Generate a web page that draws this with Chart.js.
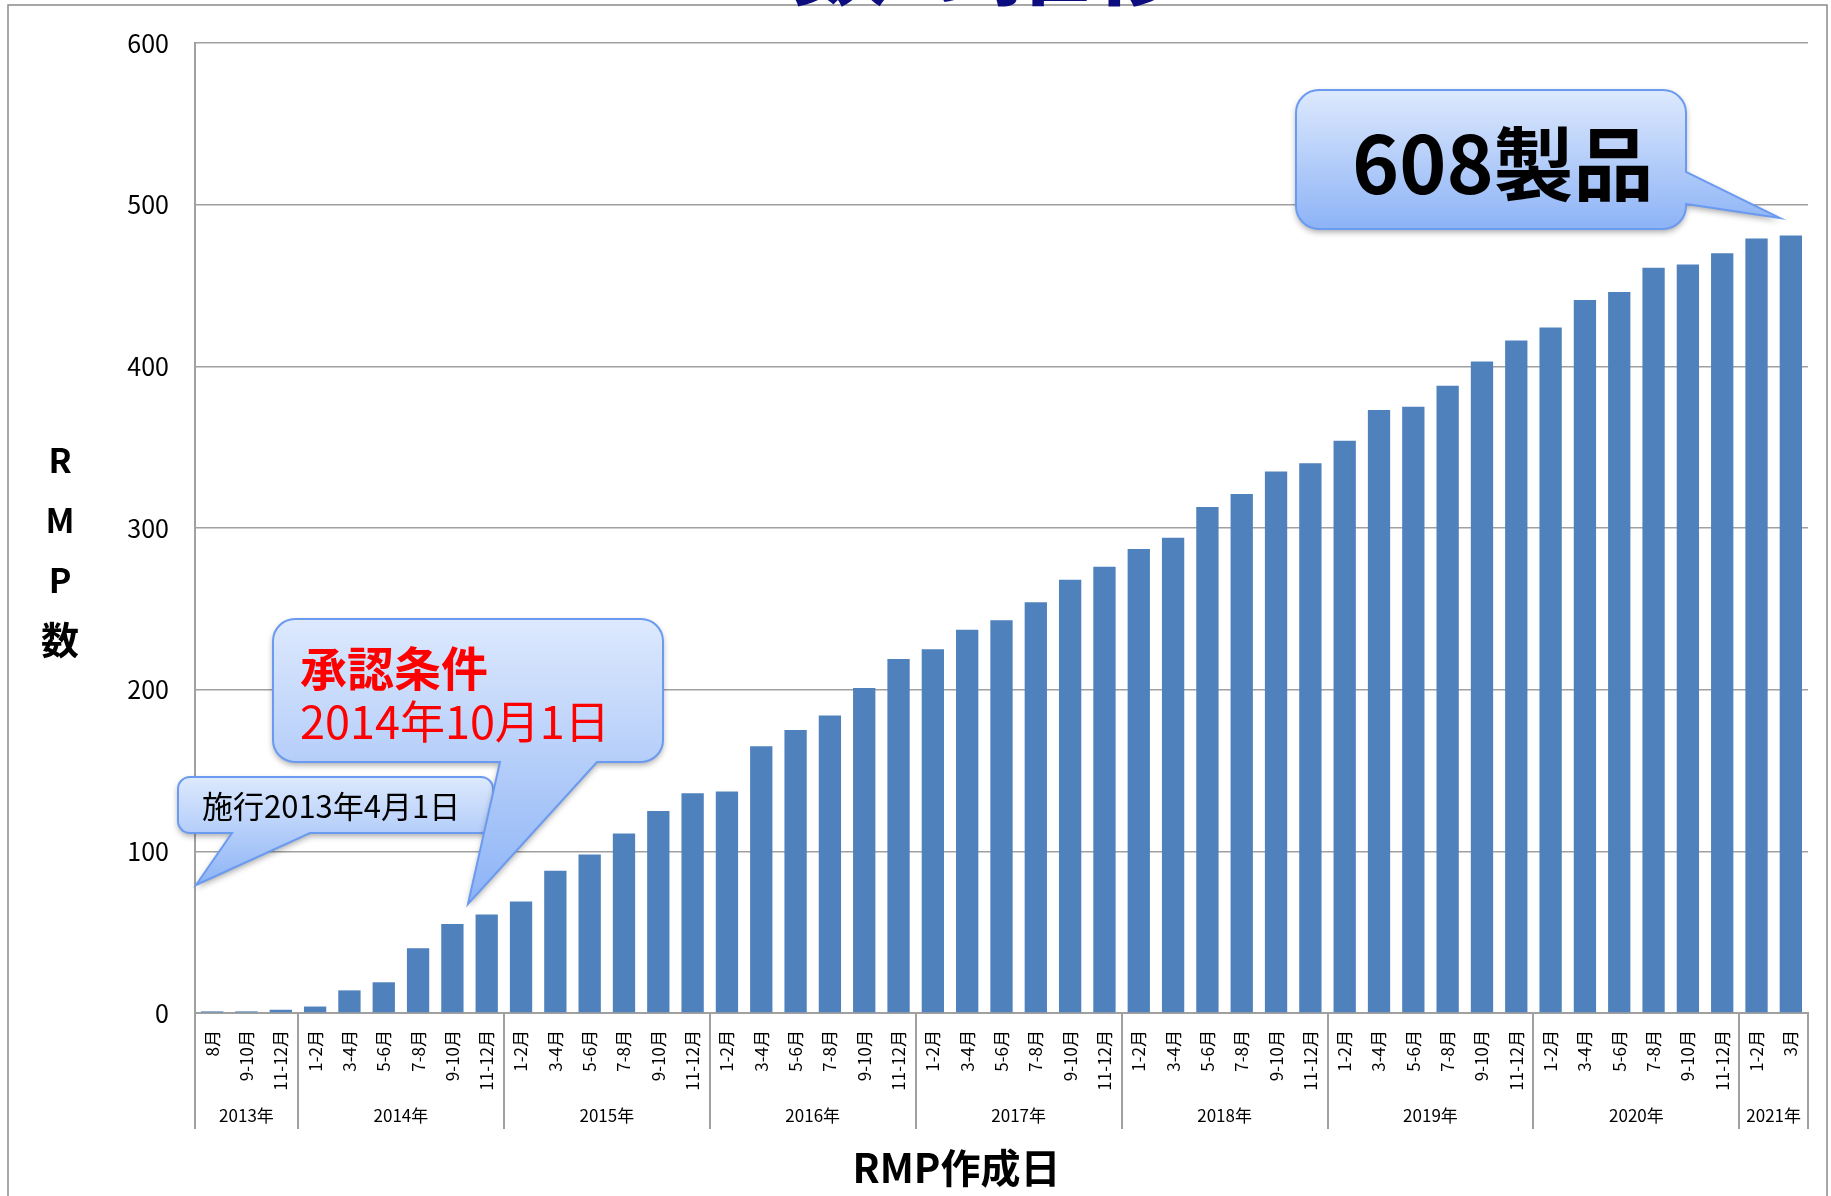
<!DOCTYPE html>
<html lang="ja">
<head>
<meta charset="utf-8">
<title>RMP数の推移</title>
<script src="https://cdn.jsdelivr.net/npm/chart.js@4.4.1/dist/chart.umd.min.js"></script>
<style>
  html, body { margin: 0; padding: 0; background: #fff; }
  #wrap { position: relative; width: 1831px; height: 1196px; }
</style>
</head>
<body>
<div id="wrap"><canvas id="id_canv"></canvas></div>
<script>
// month labels, one per bar
const months = [
  '8月', '9-10月', '11-12月',
  '1-2月', '3-4月', '5-6月', '7-8月', '9-10月', '11-12月',
  '1-2月', '3-4月', '5-6月', '7-8月', '9-10月', '11-12月',
  '1-2月', '3-4月', '5-6月', '7-8月', '9-10月', '11-12月',
  '1-2月', '3-4月', '5-6月', '7-8月', '9-10月', '11-12月',
  '1-2月', '3-4月', '5-6月', '7-8月', '9-10月', '11-12月',
  '1-2月', '3-4月', '5-6月', '7-8月', '9-10月', '11-12月',
  '1-2月', '3-4月', '5-6月', '7-8月', '9-10月', '11-12月',
  '1-2月', '3月'
]
// year groups under the month labels
const years = ['2013年', '2014年', '2015年', '2016年', '2017年', '2018年', '2019年', '2020年', '2021年']
const yearSpan = [3, 6, 6, 6, 6, 6, 6, 6, 2]

// cumulative RMP count
const rmpCounts = [
  1, 1, 2,
  4, 14, 19, 40, 55, 61,
  69, 88, 98, 111, 125, 136,
  137, 165, 175, 184, 201, 219,
  225, 237, 243, 254, 268, 276,
  287, 294, 313, 321, 335, 340,
  354, 373, 375, 388, 403, 416,
  424, 441, 446, 461, 463, 470,
  479, 481
]
const yTicks = [0, 100, 200, 300, 400, 500, 600]

const titleText = 'RMP数の推移'
const xTitle = 'RMP作成日'
const yTitleChars = ['R', 'M', 'P', '数']

const FONT = '"Noto Sans CJK JP", "Noto Sans", sans-serif'
const GRID = '#a0a0a0'

/* speech bubbles: box, tail and text lines */
const callouts = [
  {
    x: 178, y: 777, w: 315, h: 56, r: 12,
    tail: { side: 'bottom', a: 232, b: 310, tx: 196, ty: 885 },
    lines: [{ text: '施行2013年4月1日', x: 202, y: 806, font: '31px ' + FONT, color: '#000' }]
  },
  {
    x: 273, y: 619, w: 390, h: 143, r: 22,
    tail: { side: 'bottom', a: 500, b: 597, tx: 468, ty: 904 },
    lines: [
      { text: '承認条件', x: 300, y: 668, font: 'bold 47px ' + FONT, color: '#ff0000' },
      { text: '2014年10月1日', x: 300, y: 722, font: '45px ' + FONT, color: '#ff0000' }
    ]
  },
  {
    x: 1296, y: 90, w: 390, h: 139, r: 23,
    tail: { side: 'right', a: 172, b: 204, tx: 1780, ty: 218 },
    lines: [{ text: '608製品', x: 1352, y: 164, font: 'bold 80px ' + FONT, color: '#000' }]
  }
]

function bubblePath(ctx, b) {
  const { x, y, w, h, r, tail } = b
  const R = x + w, B = y + h
  ctx.beginPath()
  ctx.moveTo(x + r, y)
  ctx.lineTo(R - r, y)
  ctx.arcTo(R, y, R, y + r, r)
  if (tail.side === 'right') {
    ctx.lineTo(R, tail.a)
    ctx.lineTo(tail.tx, tail.ty)
    ctx.lineTo(R, tail.b)
  }
  ctx.lineTo(R, B - r)
  ctx.arcTo(R, B, R - r, B, r)
  if (tail.side === 'bottom') {
    ctx.lineTo(tail.b, B)
    ctx.lineTo(tail.tx, tail.ty)
    ctx.lineTo(tail.a, B)
  }
  ctx.lineTo(x + r, B)
  ctx.arcTo(x, B, x, B - r, r)
  ctx.lineTo(x, y + r)
  ctx.arcTo(x, y, x + r, y, r)
  ctx.closePath()
}

// frame, clipped title and white background
const framePlugin = {
  id: 'frame',
  beforeDraw(chart) {
    const c = chart.ctx
    c.save()
    c.fillStyle = '#fff'
    c.fillRect(0, 0, chart.width, chart.height)
    c.strokeStyle = '#8a8a8a'
    c.lineWidth = 1.5
    c.strokeRect(8, 5, 1819, 1300)
    c.fillStyle = '#0d0d80'
    c.font = 'bold 100px ' + FONT
    c.textAlign = 'center'
    c.textBaseline = 'alphabetic'
    c.fillText(titleText, 880, -3)
    c.restore()
  }
}

// year groups, axis titles and callouts
const extrasPlugin = {
  id: 'extras',
  afterDraw(chart) {
    const c = chart.ctx
    const xs = chart.scales.x
    const area = chart.chartArea
    c.save()

    // year separators + labels
    c.strokeStyle = GRID
    c.lineWidth = 2
    c.fillStyle = '#000'
    c.font = '17px ' + FONT
    c.textAlign = 'center'
    c.textBaseline = 'middle'
    let idx = 0
    const half = (xs.getPixelForValue(1) - xs.getPixelForValue(0)) / 2
    years.forEach((yr, k) => {
      const x0 = xs.getPixelForValue(idx) - half
      const x1 = xs.getPixelForValue(idx + yearSpan[k] - 1) + half
      c.beginPath()
      c.moveTo(Math.round(x0), area.bottom)
      c.lineTo(Math.round(x0), area.bottom + 116)
      if (k === years.length - 1) {
        c.moveTo(Math.round(x1), area.bottom)
        c.lineTo(Math.round(x1), area.bottom + 116)
      }
      c.stroke()
      c.fillText(yr, (x0 + x1) / 2, area.bottom + 103)
      idx += yearSpan[k]
    })

    // x title
    c.font = 'bold 40px ' + FONT
    c.fillText(xTitle, (area.left + area.right) / 2 - 45, 1168)

    // y title, stacked
    yTitleChars.forEach((ch, i) => {
      c.font = (ch === '数' ? 'bold 38px ' : 'bold 34px ') + FONT
      c.fillText(ch, 60, 460 + i * 60)
    })

    // callouts
    callouts.forEach(b => {
      const g = c.createLinearGradient(0, b.y, 0, Math.max(b.y + b.h, b.tail.ty))
      g.addColorStop(0, '#dde9fd')
      g.addColorStop(1, '#8db3f6')
      c.save()
      c.shadowColor = 'rgba(0,0,0,0.35)'
      c.shadowBlur = 6
      c.shadowOffsetY = 3
      bubblePath(c, b)
      c.fillStyle = g
      c.fill()
      c.restore()
      bubblePath(c, b)
      c.strokeStyle = '#6b9bf0'
      c.lineWidth = 2
      c.stroke()
      b.lines.forEach(l => {
        c.font = l.font
        c.fillStyle = l.color
        c.textAlign = 'left'
        c.textBaseline = 'middle'
        c.fillText(l.text, l.x, l.y)
      })
    })
    c.restore()
  }
}

let canv = document.getElementById('id_canv')
new Chart(canv.getContext('2d'), {
  type: 'bar',
  data: {
    labels: months,
    datasets: [{
      label: 'RMP数',
      data: rmpCounts,
      backgroundColor: '#4f81bd',
      borderWidth: 0,
      barPercentage: 0.65,
      categoryPercentage: 1.0
    }]
  },
  options: {
    responsive: true,
    maintainAspectRatio: false,
    animation: false,
    layout: { padding: { left: 80, right: 23, top: 43, bottom: 0 } },
    plugins: {
      legend: { display: false },
      tooltip: { enabled: false }
    },
    scales: {
      x: {
        grid: { display: false, drawTicks: false },
        border: { display: true, color: GRID, width: 2 },
        ticks: {
          autoSkip: false,
          minRotation: 90,
          maxRotation: 90,
          padding: 17,
          color: '#000',
          font: { family: FONT, size: 17 }
        },
        afterFit(scale) { scale.height = 183 }
      },
      y: {
        min: yTicks[0],
        max: yTicks[yTicks.length - 1],
        grid: { color: GRID, lineWidth: 1.5, drawTicks: false },
        border: { display: true, color: GRID, width: 2 },
        ticks: {
          stepSize: yTicks[1] - yTicks[0],
          padding: 26,
          color: '#000',
          font: { family: FONT, size: 25 }
        },
        afterFit(scale) { scale.width = 115 }
      }
    }
  },
  plugins: [framePlugin, extrasPlugin]
})
</script>
</body>
</html>
